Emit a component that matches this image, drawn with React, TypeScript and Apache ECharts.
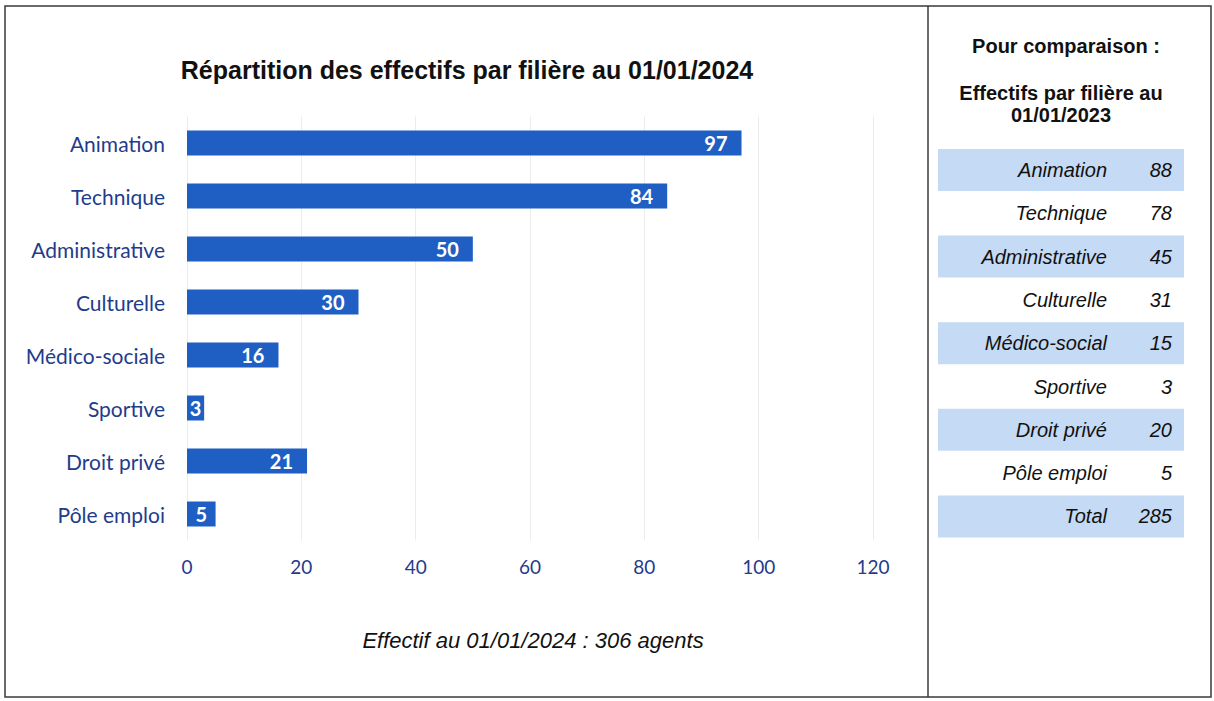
import React, { useEffect, useRef } from "react";
import * as echarts from "echarts";

const categories = ["Animation", "Technique", "Administrative", "Culturelle", "Médico-sociale", "Sportive", "Droit privé", "Pôle emploi"];
const values2024 = [97, 84, 50, 30, 16, 3, 21, 5];
const xTicks = { min: 0, max: 120, interval: 20 };

const compCategories = ["Animation", "Technique", "Administrative", "Culturelle", "Médico-social", "Sportive", "Droit privé", "Pôle emploi", "Total"];
const compValues = [88, 78, 45, 31, 15, 3, 20, 5, 285];

const titleText = "Répartition des effectifs par filière au 01/01/2024";
const footerText = "Effectif au 01/01/2024 : 306 agents";
const compTitle1 = "Pour comparaison :";
const compTitle2 = "Effectifs par filière au";
const compTitle3 = "01/01/2023";

export default function App() {
  const ref = useRef<HTMLDivElement>(null);
  useEffect(() => {
    if (!ref.current) return;
    const chart = echarts.init(ref.current, undefined, { renderer: "svg" });
    const rowY0 = 170;
    const rowStep = 43.3;
    const tableGraphics: any[] = [];
    const tFont = "italic 20px 'Liberation Sans', Arial, sans-serif";
    compCategories.forEach((c, i) => {
      const y = rowY0 + i * rowStep;
      if (i % 2 === 0) {
        tableGraphics.push({
          type: "rect",
          shape: { x: 938, y: y - 21, width: 246, height: 42 },
          style: { fill: "#c5daf4" },
          z: 1,
        });
      }
      tableGraphics.push({
        type: "text",
        x: 1107,
        y,
        style: { text: c, fill: "#111", font: tFont, textAlign: "right", textVerticalAlign: "middle" },
        z: 2,
      });
      tableGraphics.push({
        type: "text",
        x: 1172,
        y,
        style: { text: String(compValues[i]), fill: "#111", font: tFont, textAlign: "right", textVerticalAlign: "middle" },
        z: 2,
      });
    });

    const barData = values2024.map((v) =>
      v < 8 ? { value: v, label: { position: "inside" } } : v
    );

    const hFont = "bold 20px 'Liberation Sans', Arial, sans-serif";

    chart.setOption({
      animation: false,
      backgroundColor: "#fff",
      grid: { left: 187, right: 341, top: 116.5, height: 424, containLabel: false },
      xAxis: {
        type: "value",
        min: xTicks.min,
        max: xTicks.max,
        interval: xTicks.interval,
        axisLine: { show: false },
        axisTick: { show: false },
        splitLine: { show: true, lineStyle: { color: "#ececec", width: 1 } },
        axisLabel: { color: "#1f3c8c", fontFamily: "Lato, 'Open Sans', sans-serif", fontSize: 19, margin: 16 },
      },
      yAxis: {
        type: "category",
        inverse: true,
        data: categories,
        axisLine: { show: false },
        axisTick: { show: false },
        axisLabel: { color: "#1f3c8c", fontFamily: "Lato, 'Open Sans', sans-serif", fontSize: 21, margin: 22 },
      },
      series: [
        {
          type: "bar",
          data: barData,
          barWidth: 25,
          itemStyle: { color: "#1f5fc4" },
          label: {
            show: true,
            position: "insideRight",
            distance: 14,
            color: "#fff",
            fontWeight: "bold",
            fontFamily: "Lato, 'Open Sans', sans-serif",
            fontSize: 20,
          },
        },
      ],
      graphic: [
        {
          type: "rect",
          shape: { x: 5, y: 6, width: 1206, height: 691 },
          style: { fill: "none", stroke: "#3a3a3a", lineWidth: 1.5 },
          silent: true,
        },
        {
          type: "line",
          shape: { x1: 928, y1: 6, x2: 928, y2: 697 },
          style: { stroke: "#3a3a3a", lineWidth: 1.5 },
        },
        {
          type: "text",
          x: 467,
          y: 70,
          style: {
            text: titleText,
            fill: "#111",
            font: "bold 25px 'Liberation Sans', Arial, sans-serif",
            textAlign: "center",
            textVerticalAlign: "middle",
          },
        },
        {
          type: "text",
          x: 533,
          y: 640,
          style: {
            text: footerText,
            fill: "#111",
            font: "italic 22px 'Liberation Sans', Arial, sans-serif",
            textAlign: "center",
            textVerticalAlign: "middle",
          },
        },
        {
          type: "text",
          x: 1066,
          y: 46,
          style: { text: compTitle1, fill: "#111", font: hFont, textAlign: "center", textVerticalAlign: "middle" },
        },
        {
          type: "text",
          x: 1061,
          y: 93,
          style: { text: compTitle2, fill: "#111", font: hFont, textAlign: "center", textVerticalAlign: "middle" },
        },
        {
          type: "text",
          x: 1061,
          y: 115,
          style: { text: compTitle3, fill: "#111", font: hFont, textAlign: "center", textVerticalAlign: "middle" },
        },
        ...tableGraphics,
      ],
    });
    return () => chart.dispose();
  }, []);
  return <div ref={ref} style={{ position: "fixed", left: 0, top: 0, width: 1214, height: 701 }} />;
}
